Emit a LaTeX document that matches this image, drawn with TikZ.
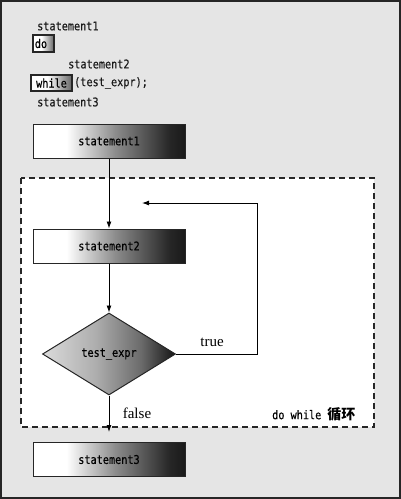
\documentclass[tikz,border=0pt]{standalone}
\usepackage{fontspec}
\setmainfont{Liberation Serif}
\setmonofont[FakeStretch=0.85,FakeBold=0.3]{DejaVu Sans Mono}
\newfontfamily\cjk{Noto Sans CJK SC}
\usetikzlibrary{shapes.geometric,arrows.meta}
\pgfdeclarehorizontalshading{boxgrad}{100bp}{color(0bp)=(white); color(25bp)=(white); color(36bp)=(white); color(52bp)=(black!45); color(70bp)=(black!85); color(75bp)=(black!90); color(100bp)=(black!90)}
\pgfdeclarehorizontalshading{smallgrad}{100bp}{color(0bp)=(white); color(25bp)=(white); color(45bp)=(white); color(75bp)=(black!60); color(100bp)=(black!60)}
\pgfdeclarehorizontalshading{diagrad}{100bp}{color(0bp)=(black!14); color(25bp)=(black!14); color(45bp)=(black!32); color(62bp)=(black!58); color(75bp)=(black!92); color(100bp)=(black!92)}
\begin{document}
\begin{tikzpicture}[x=1pt,y=-1pt,
  code/.style={font=\fontsize{12}{14}\selectfont\ttfamily, text=black!90, inner sep=0pt},
  stbox/.style={draw=black!85, line width=1pt, shading=boxgrad, minimum width=152pt, minimum height=34pt, inner sep=0pt, font=\fontsize{12}{14}\selectfont\ttfamily},
  kwbox/.style={draw=black!85, line width=1.2pt, shading=smallgrad, inner sep=0pt, font=\fontsize{12}{14}\selectfont\ttfamily},
  cond/.style={diamond, draw=black!85, line width=1pt, shading=diagrad, minimum width=133pt, minimum height=82pt, inner sep=0pt, font=\fontsize{12}{14}\selectfont\ttfamily},
  arr/.style={line width=0.9pt, -{Latex[length=7pt,width=5pt]}},
  lbl/.style={font=\fontsize{15}{17}\selectfont, inner sep=0pt}]
\useasboundingbox (0,0) rectangle (401,499);
% background and frame
\fill[black!10] (0,0) rectangle (401,499);
\draw[black!85, line width=2pt] (1,1) rectangle (400,498);
% dashed loop region
\draw[black!85, line width=1.3pt, dash pattern=on 6pt off 4pt, fill=white] (21,178) rectangle (374,427);
% code listing
\node[code, anchor=west] (c1) at (37,26) {statement1};
\node[kwbox, minimum width=21pt, minimum height=17pt] (cdo) at (43.5,43.5) {do\hspace*{5pt}};
\node[code, anchor=west] (c2) at (68,64) {statement2};
\node[kwbox, minimum width=41pt, minimum height=16pt] (cwhile) at (51.5,83) {while};
\node[code, anchor=west] (c3) at (74,83) {(test\_expr);};
\node[code, anchor=west] (c4) at (37,102) {statement3};
% flow chart
\node[stbox] (s1) at (109,141) {statement1};
\node[stbox] (s2) at (109,246) {statement2};
\node[cond] (t) at (109,354) {test\_expr};
\node[stbox] (s3) at (109,459.5) {statement3};
\coordinate (r1) at (257,354);
\coordinate (r2) at (257,203);
\coordinate (r3) at (142,203);
\draw[arr] (s1) -- (s2);
\draw[arr] (s2) -- (t);
\draw[arr, shorten >=10pt] (t) -- (s3);
\draw[arr] (t.east) -- (r1) -- (r2) -- (r3);
\node[lbl] (ltrue) at (212,342) {true};
\node[lbl] (lfalse) at (137,413) {false};
\node[anchor=west, inner sep=0pt] (ldw) at (272,414) {\fontsize{12}{14}\selectfont\ttfamily do while \fontsize{14}{16}\selectfont\cjk\bfseries 循环};
\end{tikzpicture}
\end{document}
